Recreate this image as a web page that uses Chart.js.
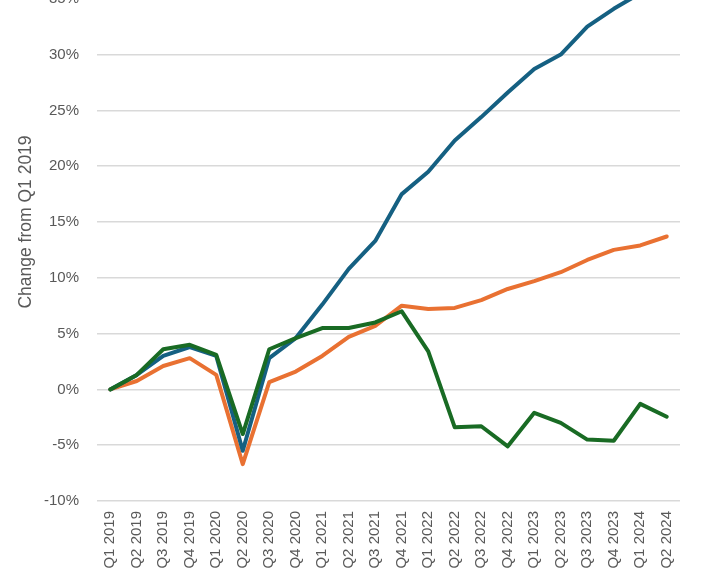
<!DOCTYPE html>
<html lang="en">
<head>
    <meta charset="UTF-8">
    <title>Change from Q1 2019</title>
    <script src="https://cdn.jsdelivr.net/npm/chart.js"></script>
    <style>
        body { margin: 0; background: #fff; }
        #wrap { position: relative; width: 710px; height: 570px; overflow: hidden; }
        #chart { position: absolute; left: 0; top: -84px; }
    </style>
</head>
<body>
<div id="wrap">
    <canvas id="chart" width="710" height="675"></canvas>
</div>
<script>
// Quarterly change from Q1 2019, in percent
const quarters = ['Q1 2019', 'Q2 2019', 'Q3 2019', 'Q4 2019',
    'Q1 2020', 'Q2 2020', 'Q3 2020', 'Q4 2020',
    'Q1 2021', 'Q2 2021', 'Q3 2021', 'Q4 2021',
    'Q1 2022', 'Q2 2022', 'Q3 2022', 'Q4 2022',
    'Q1 2023', 'Q2 2023', 'Q3 2023', 'Q4 2023',
    'Q1 2024', 'Q2 2024'];

const blueValues = [0, 1.3, 3.0, 3.8, 3.0, -5.5, 2.8, 4.6, 7.6, 10.8, 13.3, 17.5,
    19.5, 22.3, 24.4, 26.6, 28.7, 30.0, 32.5, 34.1, 35.5, 36.5];
const orangeValues = [0, 0.75, 2.1, 2.8, 1.3, -6.7, 0.65, 1.6, 3.0, 4.7, 5.7, 7.5,
    7.2, 7.3, 8.0, 9.0, 9.7, 10.5, 11.6, 12.5, 12.9, 13.7];
const greenValues = [0, 1.3, 3.6, 4.0, 3.1, -4.0, 3.6, 4.6, 5.5, 5.5, 6.0, 7.0,
    3.4, -3.4, -3.3, -5.1, -2.1, -3.0, -4.5, -4.6, -1.3, -2.45];

const yMin = -10, yMax = 40, yStep = 5;

const tickColor = '#595959';
const fontFamily = "'Liberation Sans', Arial, sans-serif";

function lineSet(data, color) {
    return {
        data: data,
        borderColor: color,
        backgroundColor: color,
        borderWidth: 4,
        pointRadius: 0,
        tension: 0,
        borderCapStyle: 'round',
        borderJoinStyle: 'round',
        fill: false
    };
}

const ctx = document.getElementById('chart').getContext('2d');
new Chart(ctx, {
    type: 'line',
    data: {
        labels: quarters,
        // green first so it is drawn on top
        datasets: [
            lineSet(greenValues, '#196B24'),
            lineSet(blueValues, '#156082'),
            lineSet(orangeValues, '#E97132')
        ]
    },
    options: {
        responsive: false,
        animation: false,
        layout: { padding: { top: 20, right: 30, left: 0, bottom: 0 } },
        plugins: {
            legend: { display: false },
            tooltip: { enabled: false }
        },
        scales: {
            x: {
                offset: true,
                grid: { display: false, drawTicks: false },
                border: { display: false },
                ticks: {
                    color: tickColor,
                    font: { family: fontFamily, size: 15 },
                    minRotation: 90,
                    maxRotation: 90,
                    autoSkip: false,
                    padding: 10
                },
                afterFit: scale => { scale.height = 90; }
            },
            y: {
                min: yMin,
                max: yMax,
                ticks: {
                    stepSize: yStep,
                    color: tickColor,
                    font: { family: fontFamily, size: 15 },
                    padding: 18,
                    callback: v => v + '%'
                },
                grid: { color: '#d9d9d9', lineWidth: 1.5, drawTicks: false },
                border: { display: false },
                title: {
                    display: true,
                    text: 'Change from Q1 2019',
                    color: tickColor,
                    font: { family: fontFamily, size: 17.5 },
                    padding: { top: 16, bottom: 0 }
                },
                afterFit: scale => { scale.width = 97; }
            }
        }
    }
});
</script>
</body>
</html>
